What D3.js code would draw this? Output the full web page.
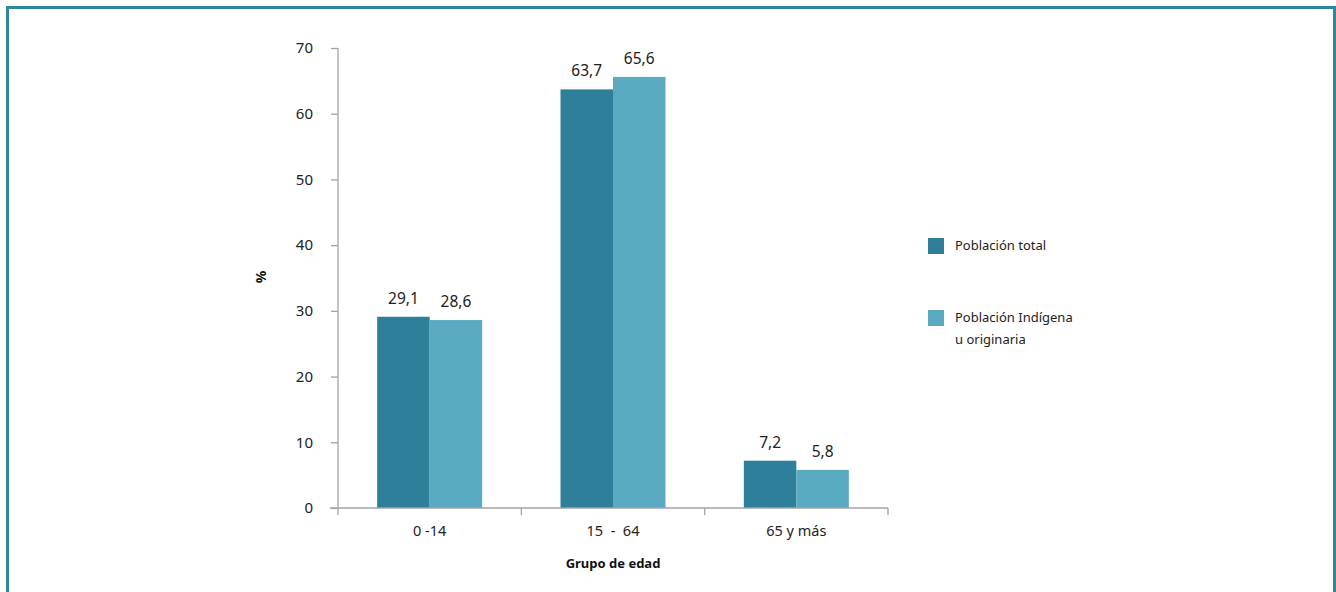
<!DOCTYPE html>
<html><head><meta charset="utf-8">
<script src="https://cdn.jsdelivr.net/npm/d3@7"></script>
<style>
html,body{margin:0;padding:0;background:#fff;}
svg{display:block;font-family:"Noto Sans","Open Sans",sans-serif;}
.xt text{white-space:pre;}
</style></head>
<body>
<svg id="c" width="1336" height="592"></svg>
<script>
const categories = ["0 -14", "15  -  64", "65 y más"];
const seriesNames = ["Población total", "Población Indígena u originaria"];
const totalValues = [29.1, 63.7, 7.2];
const indigenousValues = [28.6, 65.6, 5.8];
const yTicks = [0, 10, 20, 30, 40, 50, 60, 70];
const colors = ["#2e7f99", "#5aabc1"];

const svg = d3.select("#c");
// frame
svg.append("rect").attr("x", 7.5).attr("y", 7.5).attr("width", 1327).attr("height", 600)
  .attr("fill", "none").attr("stroke", "#2e86a0").attr("stroke-width", 3);

const x0 = 338, x1 = 888, yTop = 48, yBot = 508;
const x = d3.scaleBand().domain(categories).range([x0, x1]).paddingInner(0).paddingOuter(0);
const y = d3.scaleLinear().domain([0, 70]).range([yBot, yTop]);
const xs = d3.scaleBand().domain([0, 1]).range([0, 105]);
const groupOffset = (x.bandwidth() - 105) / 2;

const axisColor = "#a3a3a8";
const txt = "#222";

// bars
const data = categories.map((c, i) => ({c, v: [totalValues[i], indigenousValues[i]]}));
const g = svg.append("g");
data.forEach(d => {
  d.v.forEach((v, j) => {
    const bx = x(d.c) + groupOffset + xs(j);
    g.append("rect").attr("x", bx).attr("y", y(v)).attr("width", xs.bandwidth())
      .attr("height", y(0) - y(v)).attr("fill", colors[j]);
    g.append("text").attr("x", bx + xs.bandwidth() / 2).attr("y", y(v) - 13)
      .attr("text-anchor", "middle").attr("font-size", 15.5).attr("fill", txt)
      .text(String(v.toFixed(1)).replace(".", ","));
  });
});

// y axis
const ya = svg.append("g").attr("transform", `translate(${x0},0)`)
  .call(d3.axisLeft(y).tickValues(yTicks).tickSize(7).tickPadding(18));
ya.select(".domain").attr("stroke", axisColor).attr("stroke-width", 1.3).attr("d", `M0,${yTop}V${yBot}`);
ya.selectAll(".tick line").attr("stroke", axisColor).attr("stroke-width", 1.3);
ya.selectAll(".tick text").attr("font-size", 15).attr("fill", txt).attr("font-family", "'Noto Sans',sans-serif");

// x axis
const xa = svg.append("g").attr("class", "xt").attr("transform", `translate(0,${yBot})`)
  .call(d3.axisBottom(x).tickSize(0).tickPadding(18));
xa.select(".domain").attr("stroke", axisColor).attr("stroke-width", 1.3).attr("d", `M${x0 - 8},0H${x1}`);
xa.selectAll(".tick text").attr("font-size", 14.5).attr("fill", txt).attr("font-family", "'Noto Sans',sans-serif");
const bounds = categories.map(c => x(c)).concat([x1]);
xa.selectAll(".sep").data(bounds).enter().append("line").attr("class", "sep")
  .attr("x1", d => d).attr("x2", d => d).attr("y1", 0).attr("y2", 7)
  .attr("stroke", axisColor).attr("stroke-width", 1.3);

// axis titles
svg.append("text").attr("transform", "translate(266,277) rotate(-90)")
  .attr("text-anchor", "middle").attr("font-size", 14).attr("font-weight", "bold").attr("fill", "#111").text("%");
svg.append("text").attr("x", 613).attr("y", 568).attr("text-anchor", "middle")
  .attr("font-size", 13).attr("font-weight", "bold").attr("fill", "#111").text("Grupo de edad");

// legend
const leg = svg.append("g");
const legY = [238, 310];
leg.append("rect").attr("x", 928).attr("y", legY[0]).attr("width", 16).attr("height", 16).attr("fill", colors[0]);
leg.append("text").attr("x", 955).attr("y", legY[0] + 12).attr("font-size", 13).attr("fill", txt).text(seriesNames[0]);
leg.append("rect").attr("x", 928).attr("y", legY[1]).attr("width", 16).attr("height", 16).attr("fill", colors[1]);
const t2 = leg.append("text").attr("x", 955).attr("y", legY[1] + 12).attr("font-size", 13).attr("fill", txt);
t2.append("tspan").attr("x", 955).text("Población Indígena");
t2.append("tspan").attr("x", 955).attr("dy", 22).text("u originaria");
</script>
</body></html>
